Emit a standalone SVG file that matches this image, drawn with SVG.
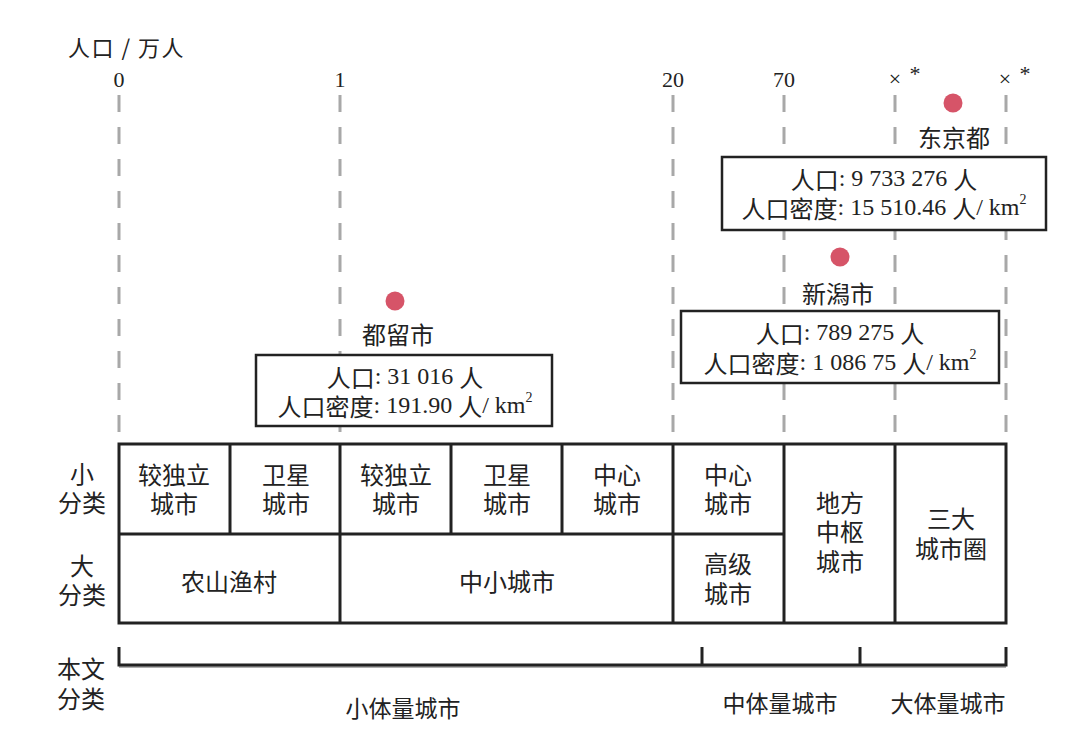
<svg xmlns="http://www.w3.org/2000/svg" width="1071" height="743" viewBox="0 0 1071 743">
<style>
.cjk{font-family:"Noto Sans CJK SC","Noto Sans",sans-serif;fill:#222;}
.ser{font-family:"Liberation Serif","Times New Roman",serif;fill:#222;}
.lbl{font-size:24px;text-anchor:middle;dominant-baseline:central;}
.bot{font-size:23px;text-anchor:middle;dominant-baseline:central;}
.num{font-size:22px;text-anchor:middle;}
.dash{stroke:#a8a8a8;stroke-width:3;stroke-dasharray:17 15;fill:none;}
.tb{stroke:#222;stroke-width:3;fill:none;}
.box{stroke:#222;stroke-width:2.5;fill:#fff;}
.dot{fill:#d65468;}
.info{font-size:24px;text-anchor:middle;dominant-baseline:central;}
</style>
<rect width="1071" height="743" fill="#fff"/>

<g id="axis">
  <text class="cjk" x="68" y="46" font-size="22" dominant-baseline="central" letter-spacing="1.5">人口 / 万人</text>
  <text class="ser num" x="119" y="87">0</text>
  <text class="ser num" x="340" y="87">1</text>
  <text class="ser num" x="673" y="87">20</text>
  <text class="ser num" x="784" y="87">70</text>
  <text class="ser num" x="905" y="84"><tspan x="895" y="86">×</tspan><tspan x="915" y="81">*</tspan></text>
  <text class="ser num" x="1015" y="84"><tspan x="1005" y="86">×</tspan><tspan x="1025" y="81">*</tspan></text>
</g>

<g id="connectors">
  <line class="dash" x1="119" y1="95" x2="119" y2="443"/>
  <line class="dash" x1="340" y1="95" x2="340" y2="443"/>
  <line class="dash" x1="673" y1="95" x2="673" y2="443"/>
  <line class="dash" x1="784" y1="95" x2="784" y2="443"/>
  <line class="dash" x1="895" y1="95" x2="895" y2="443"/>
  <line class="dash" x1="1006" y1="95" x2="1006" y2="443"/>
  <path d="M119 667 H1006" stroke="#b0b0b0" stroke-width="2" fill="none"/>
  <path class="tb" d="M119 647 V665 H1006 V647 M702 647 V665 M860 647 V665"/>
</g>

<g id="tokyo">
  <circle class="dot" cx="953" cy="103" r="9.5"/>
  <text class="cjk info" x="954" y="136">东京都</text>
  <rect class="box" x="722" y="157" width="324" height="73"/>
  <text class="info"><tspan x="884" y="178"><tspan class="cjk">人口</tspan><tspan class="ser">: 9 733 276 </tspan><tspan class="cjk">人</tspan></tspan><tspan x="884" y="207"><tspan class="cjk">人口密度</tspan><tspan class="ser">: 15 510.46 </tspan><tspan class="cjk">人</tspan><tspan class="ser">/ km</tspan><tspan class="ser" font-size="14" dy="-8">2</tspan></tspan></text>
</g>

<g id="niigata">
  <circle class="dot" cx="840" cy="257" r="9.5"/>
  <text class="cjk info" x="838" y="292">新潟市</text>
  <rect class="box" x="681" y="311" width="318" height="72"/>
  <text class="info"><tspan x="840" y="332"><tspan class="cjk">人口</tspan><tspan class="ser">: 789 275 </tspan><tspan class="cjk">人</tspan></tspan><tspan x="840" y="362"><tspan class="cjk">人口密度</tspan><tspan class="ser">: 1 086 75 </tspan><tspan class="cjk">人</tspan><tspan class="ser">/ km</tspan><tspan class="ser" font-size="14" dy="-8">2</tspan></tspan></text>
</g>

<g id="tsuru">
  <circle class="dot" cx="395" cy="301" r="9.5"/>
  <text class="cjk info" x="398" y="333">都留市</text>
  <rect class="box" x="256" y="355" width="296" height="71"/>
  <text class="info"><tspan x="405" y="376"><tspan class="cjk">人口</tspan><tspan class="ser">: 31 016 </tspan><tspan class="cjk">人</tspan></tspan><tspan x="405" y="405"><tspan class="cjk">人口密度</tspan><tspan class="ser">: 191.90 </tspan><tspan class="cjk">人</tspan><tspan class="ser">/ km</tspan><tspan class="ser" font-size="14" dy="-8">2</tspan></tspan></text>
</g>

<g id="table">
  <rect x="119" y="444" width="887" height="179" fill="#fff" stroke="#222" stroke-width="3"/>
  <path class="tb" d="M119 534 H784 M230 444 V534 M340 444 V623 M451 444 V534 M562 444 V534 M673 444 V623 M784 444 V623 M895 444 V623"/>
</g>

<g id="row-labels">
  <text class="cjk lbl"><tspan x="82" y="472">小</tspan><tspan x="82" y="501">分类</tspan></text>
  <text class="cjk lbl"><tspan x="82" y="564">大</tspan><tspan x="82" y="593">分类</tspan></text>
  <text class="cjk lbl"><tspan x="81" y="667">本文</tspan><tspan x="81" y="697">分类</tspan></text>
</g>

<g id="cell-1"><text class="cjk lbl"><tspan x="174" y="473">较独立</tspan><tspan x="174" y="502">城市</tspan></text></g>
<g id="cell-2"><text class="cjk lbl"><tspan x="286" y="473">卫星</tspan><tspan x="286" y="502">城市</tspan></text></g>
<g id="cell-3"><text class="cjk lbl"><tspan x="396" y="473">较独立</tspan><tspan x="396" y="502">城市</tspan></text></g>
<g id="cell-4"><text class="cjk lbl"><tspan x="507" y="473">卫星</tspan><tspan x="507" y="502">城市</tspan></text></g>
<g id="cell-5"><text class="cjk lbl"><tspan x="617" y="473">中心</tspan><tspan x="617" y="502">城市</tspan></text></g>
<g id="cell-6"><text class="cjk lbl"><tspan x="728" y="473">中心</tspan><tspan x="728" y="502">城市</tspan></text></g>
<g id="cell-7"><text class="cjk lbl" x="229" y="580">农山渔村</text></g>
<g id="cell-8"><text class="cjk lbl" x="507" y="580">中小城市</text></g>
<g id="cell-9"><text class="cjk lbl"><tspan x="728" y="562">高级</tspan><tspan x="728" y="592">城市</tspan></text></g>
<g id="cell-10"><text class="cjk lbl"><tspan x="840" y="501">地方</tspan><tspan x="840" y="530">中枢</tspan><tspan x="840" y="560">城市</tspan></text></g>
<g id="cell-11"><text class="cjk lbl"><tspan x="951" y="517">三大</tspan><tspan x="951" y="547">城市圈</tspan></text></g>

<g id="bottom-labels">
  <text class="cjk bot" x="403" y="707">小体量城市</text>
  <text class="cjk bot" x="780" y="702">中体量城市</text>
  <text class="cjk bot" x="948" y="702">大体量城市</text>
</g>
</svg>
